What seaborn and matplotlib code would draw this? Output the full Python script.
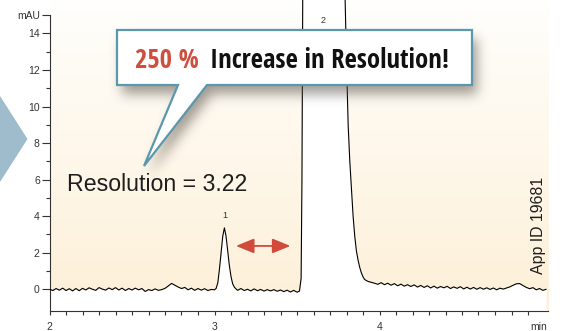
import numpy as np
import pandas as pd
import matplotlib
matplotlib.use("Agg")
import matplotlib.pyplot as plt
import seaborn as sns
from matplotlib.path import Path
from matplotlib.patches import PathPatch, Polygon
from matplotlib import font_manager
from matplotlib.font_manager import FontProperties

# ---------------- data ----------------
time_min = [
    2.00, 2.02, 2.04, 2.06, 2.08, 2.10, 2.12, 2.14, 2.16, 2.18,
    2.20, 2.22, 2.24, 2.26, 2.28, 2.30, 2.32, 2.34, 2.36, 2.38,
    2.40, 2.42, 2.44, 2.46, 2.48, 2.50, 2.52, 2.54, 2.56, 2.58,
    2.60, 2.62, 2.64, 2.66, 2.68, 2.70, 2.72, 2.74, 2.76, 2.78,
    2.80, 2.82, 2.84, 2.86, 2.88, 2.90, 2.92, 2.94, 2.96, 2.98,
    3.00, 3.01, 3.02, 3.03, 3.04, 3.05, 3.06, 3.07, 3.08, 3.09,
    3.10, 3.11, 3.12, 3.13,
    3.14, 3.16, 3.18, 3.20, 3.22, 3.24, 3.26, 3.28, 3.30, 3.32,
    3.34, 3.36, 3.38, 3.40, 3.42, 3.44, 3.46, 3.48, 3.50, 3.515,
    3.525, 3.53, 3.535, 3.79, 3.80, 3.81, 3.82, 3.83, 3.84, 3.85,
    3.86, 3.87, 3.88, 3.89, 3.90, 3.91, 3.93, 3.95,
    3.97, 3.99, 4.01, 4.03, 4.05, 4.07, 4.09, 4.11, 4.13, 4.15,
    4.17, 4.19, 4.21, 4.23, 4.25, 4.27, 4.29, 4.31, 4.33, 4.35,
    4.37, 4.39, 4.41, 4.43, 4.45, 4.47, 4.49, 4.51, 4.53, 4.55,
    4.57, 4.59, 4.61, 4.63, 4.65, 4.67, 4.69, 4.71, 4.73, 4.75,
    4.77, 4.79, 4.81, 4.83, 4.85, 4.87, 4.89, 4.91, 4.93, 4.95,
    4.97, 4.99, 5.01,
]
signal_mau = [
    0.00, -0.07, 0.04, -0.05, 0.06, -0.07, 0.03, -0.09, 0.04, -0.08,
    0.05, -0.04, 0.08, 0.00, -0.06, 0.09, 0.01, -0.05, 0.07, -0.02,
    0.09, -0.04, 0.06, -0.07, 0.04, -0.04, 0.06, -0.03, 0.04, -0.12,
    -0.02, -0.07, 0.02, -0.06, -0.02, 0.05, 0.18, 0.32, 0.22, 0.12,
    0.04, 0.10, -0.03, 0.06, -0.06, 0.04, -0.05, 0.03, -0.07, -0.01,
    -0.03, 0.05, 0.35, 1.10, 2.00, 2.90, 3.36, 2.90, 2.10, 1.30,
    0.70, 0.30, 0.12, 0.02,
    -0.06, 0.04, -0.07, 0.00, -0.09, 0.02, -0.08, -0.01, -0.10, -0.02,
    -0.09, -0.02, -0.11, -0.04, -0.13, -0.05, -0.15, -0.06, -0.16, -0.10,
    0.60, 6.00, 16.50, 16.50, 12.50, 9.00, 7.00, 5.50, 4.00, 2.90,
    2.10, 1.60, 1.20, 0.90, 0.68, 0.53, 0.43, 0.38,
    0.33, 0.27, 0.36, 0.25, 0.33, 0.22, 0.31, 0.19, 0.28, 0.17,
    0.25, 0.15, 0.24, 0.12, 0.21, 0.10, 0.19, 0.07, 0.17, 0.06,
    0.15, 0.08, 0.16, 0.04, 0.13, 0.05, 0.14, 0.02, 0.11, 0.01,
    0.10, 0.00, 0.09, 0.00, 0.08, -0.01, 0.07, -0.03, 0.06, 0.01,
    0.07, 0.13, 0.22, 0.30, 0.31, 0.20, 0.10, 0.03, 0.09, -0.03,
    0.04, -0.06, 0.00,
]

peak_labels = ["1", "2"]
peak_label_x = [3.06, 3.66]
peak_label_y = [4.05, 14.73]

y_major = [0, 2, 4, 6, 8, 10, 12, 14, 15]
y_major_labels = ["0", "2", "4", "6", "8", "10", "12", "14", "mAU"]
y_minor = [1, 3, 5, 7, 9, 11, 13]
x_major = [2, 3, 4]
x_major_labels = ["2", "3", "4"]
x_unit_label = "min"

headline_value = "250 %"
headline_text = "Increase in Resolution!"
resolution_text = "Resolution = 3.22"
app_id_text = "App ID 19681"
res_arrow_from = 3.13
res_arrow_to = 3.46
res_arrow_y = 2.37

# ---------------- style ----------------
sns.set_style("white")
plt.rcParams["font.family"] = ["Liberation Sans", "DejaVu Sans"]


def pick_condensed_bold():
    best = None
    for f in font_manager.fontManager.ttflist:
        w = f.weight if isinstance(f.weight, int) else {"bold": 700}.get(f.weight, 400)
        narrow = ("Narrow" in f.name or "Condensed" in f.name or "Cond" in f.fname
                  or f.stretch in ("condensed", "semi-condensed", "extra-condensed"))
        if narrow and w >= 700 and "Mono" not in f.name:
            score = 0
            if "Liberation Sans Narrow" in f.name:
                score = 3
            elif "Roboto" in f.name or "Open Sans" in f.name:
                score = 2
            else:
                score = 1
            if best is None or score > best[0]:
                best = (score, f.fname)
    if best:
        return FontProperties(fname=best[1])
    return FontProperties(family="Liberation Sans", weight="bold")


W, H = 565, 331
fig = plt.figure(figsize=(W / 100, H / 100), dpi=100)
fig.patch.set_facecolor("white")

XMIN, XMAX = 2.0, 5.02
YMIN, YMAX = -1.19, 15.83
ax = fig.add_axes([49.5 / W, 20 / H, (547.8 - 49.5) / W, 311 / H])
ax.set_xlim(XMIN, XMAX)
ax.set_ylim(YMIN, YMAX)
ax.set_facecolor("none")

# cream gradient background
top = np.array([1.0, 0.998, 0.99])
bot = np.array([0.993, 0.94, 0.845])
t = np.linspace(0, 1, 256)[:, None]
grad = bot[None, :] * (1 - t) + top[None, :] * t
grad = grad[:, None, :]
ax.imshow(grad, extent=[XMIN, XMAX, YMIN, YMAX], aspect="auto",
          origin="lower", zorder=0, interpolation="bilinear")

df = pd.DataFrame({"time": time_min, "signal": signal_mau})
ax.fill_between(df["time"], YMIN, df["signal"], color="white", lw=0, zorder=1)
sns.lineplot(data=df, x="time", y="signal", ax=ax, color="black", lw=0.8,
             estimator=None, sort=False, zorder=3)
ax.set_xlabel("")
ax.set_ylabel("")

# axes styling
for s in ["top", "right"]:
    ax.spines[s].set_visible(False)
for s in ["left", "bottom"]:
    ax.spines[s].set_color("#333333")
    ax.spines[s].set_linewidth(0.8)
ax.spines["left"].set_bounds(YMIN, 15)
ax.set_yticks(y_major)
ax.set_yticklabels(y_major_labels)
ax.set_yticks(y_minor, minor=True)
ax.set_xticks(x_major)
ax.set_xticklabels(x_major_labels)
ax.set_xticks([round(2 + 0.1 * i, 1) for i in range(1, 31) if i % 10 != 0], minor=True)
ax.tick_params(axis="y", which="major", length=5.8, width=0.8, pad=1.2,
               colors="#333333", labelsize=7.5, left=True)
ax.tick_params(axis="y", which="minor", length=2.9, width=0.8, colors="#333333", left=True)
ax.tick_params(axis="x", which="both", length=3, width=0.8, pad=5,
               colors="#333333", labelsize=7.5, bottom=True)
ax.text(4.965, YMIN - 0.6, x_unit_label, ha="center", va="top",
        fontsize=7.5, color="#333333", clip_on=False)

for lab, px, py in zip(peak_labels, peak_label_x, peak_label_y):
    ax.text(px, py, lab, ha="center", va="center", fontsize=6.5, color="#333333", zorder=4)

ax.annotate("", xy=(res_arrow_to, res_arrow_y), xytext=(res_arrow_from, res_arrow_y),
            arrowprops=dict(arrowstyle="<|-|>,head_length=1.1,head_width=0.45",
                            color="#d24a3a", lw=1.3, shrinkA=0, shrinkB=0,
                            mutation_scale=10), zorder=4)

# ---------------- overlay in pixel coordinates ----------------
ov = fig.add_axes([0, 0, 1, 1], zorder=5)
ov.set_xlim(0, W)
ov.set_ylim(H, 0)
ov.axis("off")
ov.patch.set_alpha(0)

# chevron at left edge
ov.add_patch(Polygon([(0, 96), (27.5, 139), (0, 182)], closed=True,
                     facecolor="#9ebccb", edgecolor="none", zorder=1))

callout = [(117, 30), (472, 30), (472, 85), (207, 85), (144, 166),
           (178, 85), (117, 85), (117, 30)]
# soft shadow
sh = np.array(callout, dtype=float) + np.array([5, 9])
yy, xx = np.mgrid[0:H, 0:W]
pts = np.column_stack([xx.ravel() + 0.5, yy.ravel() + 0.5])
mask = Path(sh).contains_points(pts).reshape(H, W).astype(float)
sig = 6.0
k = np.exp(-0.5 * (np.arange(-18, 19) / sig) ** 2)
k /= k.sum()
blur = np.apply_along_axis(lambda r: np.convolve(r, k, mode="same"), 1, mask)
blur = np.apply_along_axis(lambda c: np.convolve(c, k, mode="same"), 0, blur)
shadow = np.zeros((H, W, 4))
shadow[..., 0] = 0.33
shadow[..., 1] = 0.30
shadow[..., 2] = 0.27
shadow[..., 3] = 0.55 * blur
ov.imshow(shadow, extent=[0, W, H, 0], zorder=2, interpolation="bilinear")

codes = [Path.MOVETO] + [Path.LINETO] * (len(callout) - 2) + [Path.CLOSEPOLY]
ov.add_patch(PathPatch(Path(callout, codes), facecolor="white", edgecolor="#5b97ad",
                       lw=1.6, joinstyle="miter", zorder=3))

renderer = fig.canvas.get_renderer()


def fit_width(txt, target_px, horizontal=True):
    for _ in range(3):
        bb = txt.get_window_extent(renderer=renderer)
        cur = bb.width if horizontal else bb.height
        txt.set_fontsize(txt.get_fontsize() * target_px / cur)


head_fp = pick_condensed_bold()
t_rest = ov.text(210, 68.3, headline_text, ha="left", va="baseline",
                 fontproperties=head_fp, color="#111111", zorder=4)
t_rest.set_fontsize(18)
fit_width(t_rest, 239)
t_val = ov.text(199.3, 68.3, headline_value, ha="right", va="baseline",
                fontproperties=head_fp, color="#cf4f3e", zorder=4)
t_val.set_fontsize(t_rest.get_fontsize())

t_res = ov.text(67.3, 191, resolution_text, ha="left", va="baseline", fontsize=15,
                color="#1e1e1e", zorder=4)
fit_width(t_res, 181)

t_app = ov.text(538, 225, app_id_text, ha="center", va="center", rotation=90,
                fontsize=10, color="#1e1e1e", zorder=4)
fit_width(t_app, 97, horizontal=False)

fig.savefig("out.png", dpi=100, facecolor="white")
